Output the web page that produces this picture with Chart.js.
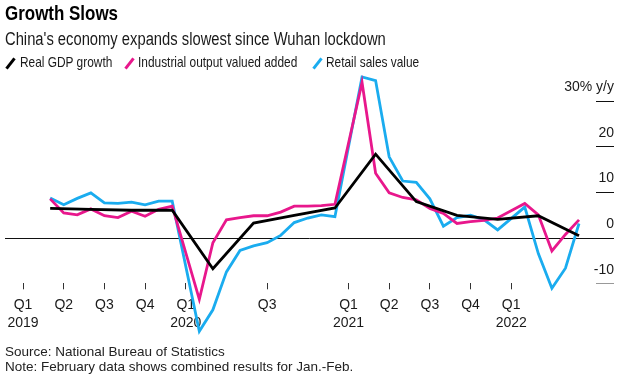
<!DOCTYPE html>
<html><head><meta charset="utf-8">
<script src="https://cdn.jsdelivr.net/npm/chart.js@4.4.1/dist/chart.umd.min.js"></script>
<style>
html,body{margin:0;padding:0;background:#fff;}
body{width:625px;height:384px;position:relative;overflow:hidden;font-family:"Liberation Sans",Arial,sans-serif;color:#111;}
#c{position:absolute;left:0;top:0;}
.t{position:absolute;white-space:nowrap;}
.nw{transform-origin:0 50%;transform:scaleX(0.82);}
#title{left:5px;top:2.6px;font:bold 20.5px/20.5px "Liberation Sans",Arial,sans-serif;color:#000;transform:scaleX(0.827);}
#sub{left:5px;top:29.8px;font:18px/18px "Liberation Sans",Arial,sans-serif;color:#1a1a1a;}
.lg{top:55.4px;font:14.5px/14.5px "Liberation Sans",Arial,sans-serif;color:#1a1a1a;}
.sl{position:absolute;top:57px;width:3px;height:13px;transform:rotate(38deg);}
.ft{left:5px;font:13.5px/13.5px "Liberation Sans",Arial,sans-serif;color:#222;}
</style></head>
<body>
<canvas id="c" width="625" height="384"></canvas>
<div class="t nw" id="title">Growth Slows</div>
<div class="t nw" id="sub">China's economy expands slowest since Wuhan lockdown</div>
<div class="sl" style="left:9px;background:#000"></div>
<div class="t lg nw" style="left:20px">Real GDP growth</div>
<div class="sl" style="left:127.5px;background:#e8178c"></div>
<div class="t lg nw" style="left:138px">Industrial output valued added</div>
<div class="sl" style="left:315.5px;background:#1aacef"></div>
<div class="t lg nw" style="left:326px">Retail sales value</div>
<div class="t ft" style="top:345.3px">Source: National Bureau of Statistics</div>
<div class="t ft" style="top:359.6px">Note: February data shows combined results for Jan.-Feb.</div>
<script>
// Monthly series (Jan-Feb combined, plotted at February)
const monthKeys = [
  "2019-03","2019-04","2019-05","2019-06","2019-07","2019-08","2019-09","2019-10","2019-11","2019-12",
  "2020-02","2020-03","2020-04","2020-05","2020-06","2020-07","2020-08","2020-09","2020-10","2020-11","2020-12",
  "2021-02","2021-03","2021-04","2021-05","2021-06","2021-07","2021-08","2021-09","2021-10","2021-11","2021-12",
  "2022-02","2022-03","2022-04","2022-05","2022-06"
];
const retailSales = [
  8.7,7.2,8.6,9.8,7.6,7.5,7.8,7.2,8.0,8.0,
  -20.5,-15.8,-7.5,-2.8,-1.8,-1.1,0.5,3.3,4.3,5.0,4.6,
  35.2,34.4,17.7,12.4,12.1,8.5,2.5,4.4,4.9,3.9,1.7,
  6.7,-3.5,-11.1,-6.7,3.1
];
const industrialOutput = [
  8.5,5.4,5.0,6.3,4.8,4.4,5.8,4.7,6.2,6.9,
  -13.5,-1.1,3.9,4.4,4.8,4.8,5.6,6.9,6.9,7.0,7.3,
  34.0,14.1,9.8,8.8,8.3,6.4,5.3,3.1,3.5,3.8,4.3,
  7.5,5.0,-2.9,0.7,3.9
];
// Quarterly GDP (plotted at quarter-end month)
const gdpQuarters = ["2019-03","2019-06","2019-09","2019-12","2020-03","2020-06","2020-09","2020-12",
  "2021-03","2021-06","2021-09","2021-12","2022-03","2022-06"];
const realGdp = [6.4,6.2,6.0,6.0,-6.8,3.2,4.9,6.5,18.3,7.9,4.9,4.0,4.8,0.4];
// Axis ticks
const tickMonths = ["2019-01","2019-04","2019-07","2019-10","2020-01","2020-07","2021-01","2021-04","2021-07","2021-10","2022-01"];
const tickLabels = [["Q1","2019"],["Q2"],["Q3"],["Q4"],["Q1","2020"],["Q3"],["Q1","2021"],["Q2"],["Q3"],["Q4"],["Q1","2022"]];
const yTicks = [-10,0,10,20,30];

function monthIndex(k){const [y,m]=k.split("-").map(Number);return (y-2019)*12+(m-1);}
function pts(keys, vals){return keys.map((k,i)=>({x:monthIndex(k),y:vals[i]}));}

const axisMarks = {
  id:'axisMarks',
  beforeDatasetsDraw(chart){
    const {ctx, chartArea, scales:{y}} = chart;
    ctx.save();
    ctx.lineWidth = 1;
    y.ticks.forEach(t=>{
      const py = Math.round(y.getPixelForValue(t.value))+0.5;
      ctx.strokeStyle = t.value<0 ? '#999' : '#111';
      const x0 = t.value===0 ? chartArea.left : chartArea.right-18;
      ctx.beginPath(); ctx.moveTo(x0,py); ctx.lineTo(chartArea.right,py); ctx.stroke();
    });
    ctx.restore();
  }
};

const lineStyle = {borderWidth:2.8, pointRadius:0, tension:0, clip:false, borderJoinStyle:'miter', fill:false};

new Chart(document.getElementById('c'), {
  type:'line',
  data:{datasets:[
    Object.assign({label:'Real GDP growth', data:pts(gdpQuarters, realGdp), borderColor:'#000'}, lineStyle),
    Object.assign({label:'Industrial output valued added', data:pts(monthKeys, industrialOutput), borderColor:'#e8178c'}, lineStyle),
    Object.assign({label:'Retail sales value', data:pts(monthKeys, retailSales), borderColor:'#1aacef'}, lineStyle)
  ]},
  options:{
    responsive:false, animation:false, devicePixelRatio:1,
    layout:{padding:{left:5,right:11,top:100.7,bottom:40.7}},
    plugins:{legend:{display:false}, tooltip:{enabled:false}},
    scales:{
      x:{
        type:'linear', min:-1.33, max:43.58,
        afterBuildTicks(s){ s.ticks = tickMonths.map(k=>({value:monthIndex(k)})); },
        afterFit(s){ s.height = 60; },
        grid:{display:true, drawOnChartArea:false, drawTicks:true, tickLength:6, color:'#333', lineWidth:1},
        border:{display:false},
        ticks:{autoSkip:false, maxRotation:0, padding:7, color:'#1a1a1a',
          font:{family:'"Liberation Sans", Arial, sans-serif', size:14, lineHeight:1.3},
          callback:(v,i)=>tickLabels[i]}
      },
      y:{
        position:'right', min:-10, max:30,
        afterBuildTicks(s){ s.ticks = yTicks.map(v=>({value:v})); },
        afterFit(s){ s.width = 0; },
        grid:{display:false},
        border:{display:false},
        ticks:{mirror:true, padding:0, labelOffset:-13.4, color:'#1a1a1a',
          font:{family:'"Liberation Sans", Arial, sans-serif', size:14},
          callback:(v)=> v===30 ? '30% y/y' : String(v)}
      }
    }
  },
  plugins:[axisMarks]
});
</script>
</body></html>
